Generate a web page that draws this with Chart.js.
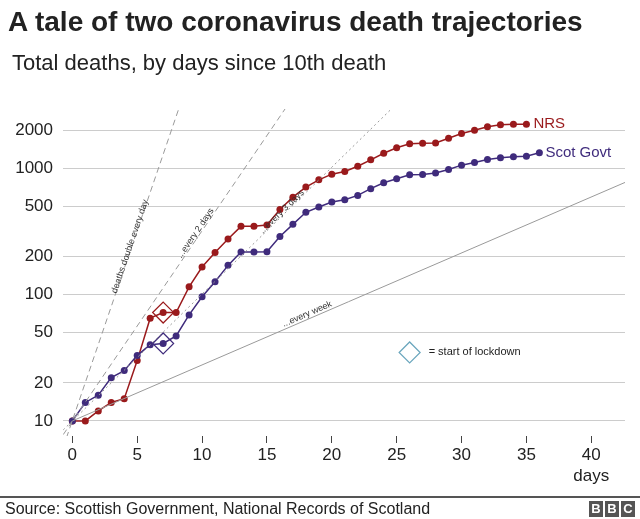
<!DOCTYPE html>
<html><head><meta charset="utf-8">
<script src="https://cdn.jsdelivr.net/npm/chart.js@4"></script>
<style>
body{margin:0;width:640px;height:519px;overflow:hidden;background:#fff;font-family:"Liberation Sans",Arial,sans-serif;position:relative}
canvas{position:absolute;left:0;top:0}
.t{position:absolute;white-space:nowrap;color:#222;line-height:1}
#title{left:8px;top:8px;font-size:28px;font-weight:bold}
#sub{left:12px;top:52px;font-size:22px}
#rule{position:absolute;left:0;top:496px;width:640px;height:2px;background:#555}
#src{left:5px;top:501px;font-size:16px}
#bbc{position:absolute;left:589px;top:501px;display:flex;gap:2px}
#bbc span{width:14px;height:16px;background:#555;color:#fff;font-weight:bold;font-size:13px;line-height:16px;text-align:center}
</style></head>
<body>
<canvas id="c" width="640" height="519"></canvas>
<div class="t" id="title">A tale of two coronavirus death trajectories</div>
<div class="t" id="sub">Total deaths, by days since 10th death</div>
<div id="rule"></div>
<div class="t" id="src">Source: Scottish Government, National Records of Scotland</div>
<div id="bbc"><span>B</span><span>B</span><span>C</span></div>
<script>
// ---- data ----
const nrsDays  = [0,1,2,3,4,5,6,7,8,9,10,11,12,13,14,15,16,17,18,19,20,21,22,23,24,25,26,27,28,29,30,31,32,33,34,35];
const nrsDeaths = [10,10,12,14,15,30,65,72,72,115,165,215,275,346,346,354,471,589,707,807,895,940,1035,1162,1311,1447,1555,1575,1580,1722,1875,1992,2119,2198,2223,2223];
const scotDays  = [0,1,2,3,4,5,6,7,8,9,10,11,12,13,14,15,16,17,18,19,20,21,22,23,24,25,26,27,28,29,30,31,32,33,34,35,36];
const scotDeaths = [10,14,16,22,25,33,40,41,47,69,96,126,170,217,217,218,288,359,447,492,539,562,608,687,766,824,886,890,913,975,1055,1107,1169,1206,1227,1241,1321];
const lockdownDay = 7;
const lockdownNrs = 72;
const lockdownScot = 41;
const legendDiamond = [26, 34.8];
const xTickValues = [0,5,10,15,20,25,30,35,40];
const yTickValues = [10,20,50,100,200,500,1000,2000];
// reference doubling lines, endpoints
const dayLine = [[-0.7, 6.2], [8.6, 3880]];
const twoDayLine = [[-0.7, 7.8], [17.2, 3880]];
const threeDayLine = [[-0.7, 8.5], [25.8, 3880]];
const weekLine = [[0, 10], [42.6, 770]];
const lineLabels = [
  {text:'deaths double every day', line:dayLine, at:[4.45, 240]},
  {text:'...every 2 days', line:twoDayLine, at:[9.5, 305]},
  {text:'...every 3 days', line:threeDayLine, at:[16.15, 452]},
  {text:'...every week', line:weekLine, at:[18.1, 70]}
];

const RED = '#9a1a1c', PURPLE = '#3f2b7c', GREY = '#9a9a9a', FONT = '"Liberation Sans", Arial, sans-serif';
const pts = (xs, ys) => xs.map((d,i)=>({x:d, y:ys[i]}));
const seg = a => a.map(p=>({x:p[0], y:p[1]}));
const refDs = (a, dash) => ({data:seg(a), borderColor:GREY, borderWidth:1, borderDash:dash, pointRadius:0, fill:false});

const annot = {
  id:'annot',
  afterDatasetsDraw(chart){
    const {ctx, scales:{x, y}, chartArea} = chart;
    ctx.save();
    ctx.fillStyle = '#333';
    ctx.font = '9px ' + FONT;
    ctx.textAlign = 'center';
    ctx.textBaseline = 'middle';
    lineLabels.forEach(l=>{
      const ax = x.getPixelForValue(l.line[0][0]), ay = y.getPixelForValue(l.line[0][1]);
      const bx = x.getPixelForValue(l.line[1][0]), by = y.getPixelForValue(l.line[1][1]);
      const ang = Math.atan2(by-ay, bx-ax);
      const px = x.getPixelForValue(l.at[0]), py = y.getPixelForValue(l.at[1]);
      ctx.save(); ctx.translate(px, py); ctx.rotate(ang); ctx.fillText(l.text, 0, 0); ctx.restore();
    });
    // series end labels
    ctx.textAlign = 'left';
    ctx.font = '15px ' + FONT;
    ctx.fillStyle = RED;
    ctx.fillText('NRS', x.getPixelForValue(nrsDays[nrsDays.length-1]) + 7, y.getPixelForValue(nrsDeaths[nrsDeaths.length-1]));
    ctx.fillStyle = PURPLE;
    ctx.fillText('Scot Govt', x.getPixelForValue(scotDays[scotDays.length-1]) + 6, y.getPixelForValue(scotDeaths[scotDeaths.length-1]));
    // legend text
    ctx.fillStyle = '#222';
    ctx.font = '11px ' + FONT;
    ctx.fillText('= start of lockdown', x.getPixelForValue(legendDiamond[0]) + 19, y.getPixelForValue(legendDiamond[1]));
    // axis unit
    ctx.textAlign = 'center';
    ctx.font = '17px ' + FONT;
    ctx.fillText('days', x.getPixelForValue(40), chartArea.bottom + 40);
    ctx.restore();
  }
};

new Chart(document.getElementById('c'), {
  type:'line',
  data:{datasets:[
    refDs(dayLine,[6,4]),
    refDs(twoDayLine,[6,4]),
    refDs(threeDayLine,[2,3]),
    refDs(weekLine,[]),
    {data:pts(scotDays, scotDeaths), borderColor:PURPLE, backgroundColor:PURPLE, borderWidth:1.5, pointRadius:3.5, pointBorderWidth:0, tension:0},
    {data:pts(nrsDays, nrsDeaths), borderColor:RED, backgroundColor:RED, borderWidth:1.5, pointRadius:3.5, pointBorderWidth:0, tension:0},
    {data:[{x:lockdownDay, y:lockdownNrs}], showLine:false, pointStyle:'rectRot', pointRadius:10.5, pointBackgroundColor:'rgba(0,0,0,0)', pointBorderColor:RED, pointBorderWidth:1.2},
    {data:[{x:lockdownDay, y:lockdownScot}], showLine:false, pointStyle:'rectRot', pointRadius:10.5, pointBackgroundColor:'rgba(0,0,0,0)', pointBorderColor:PURPLE, pointBorderWidth:1.2},
    {data:[{x:legendDiamond[0], y:legendDiamond[1]}], showLine:false, pointStyle:'rectRot', pointRadius:10.5, pointBackgroundColor:'rgba(0,0,0,0)', pointBorderColor:'#6aa6bd', pointBorderWidth:1.2}
  ]},
  options:{
    responsive:false, animation:false, events:[],
    layout:{padding:{top:109, right:15, bottom:43, left:0}},
    plugins:{legend:{display:false}, tooltip:{enabled:false}},
    scales:{
      x:{type:'linear', min:-0.72, max:42.6,
        afterBuildTicks(s){ s.ticks = xTickValues.map(v=>({value:v})); },
        afterFit(s){ s.height = 40; },
        grid:{drawOnChartArea:false, drawTicks:true, tickLength:7, color:'#444', lineWidth:1},
        border:{display:false},
        ticks:{font:{size:17, family:FONT}, color:'#222', padding:2, maxRotation:0, callback:v=>String(v)}},
      y:{type:'logarithmic', min:7.6, max:2933,
        afterBuildTicks(s){ s.ticks = yTickValues.map(v=>({value:v})); },
        afterFit(s){ s.width = 63; },
        grid:{color:'#cccccc', lineWidth:1, drawTicks:false},
        border:{display:false},
        ticks:{font:{size:17, family:FONT}, color:'#222', padding:10, callback:v=>String(v)}}
    }
  },
  plugins:[annot]
});
</script>
</body></html>
